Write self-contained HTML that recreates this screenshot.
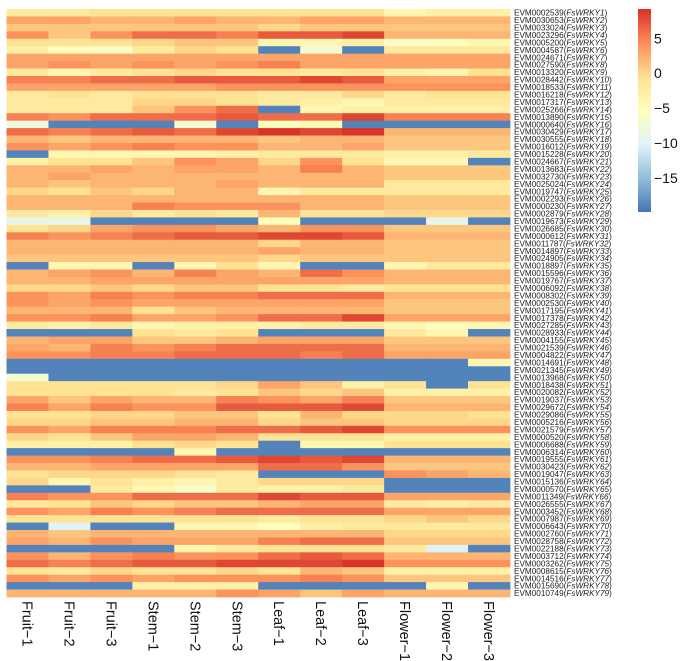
<!DOCTYPE html>
<html><head><meta charset="utf-8"><style>
html,body{margin:0;padding:0;background:#fff;}
svg{display:block;font-family:"Liberation Sans",sans-serif;}
</style></head><body>
<svg id="chart" width="685" height="661" viewBox="0 0 685 661" xmlns="http://www.w3.org/2000/svg">
<defs><linearGradient id="cbg" x1="0" y1="1" x2="0" y2="0">
<stop offset="0" stop-color="#4575B4"/><stop offset="0.1667" stop-color="#91BFDB"/><stop offset="0.3333" stop-color="#E0F3F8"/><stop offset="0.5" stop-color="#FFFFBF"/><stop offset="0.6667" stop-color="#FEE090"/><stop offset="0.8333" stop-color="#FC8D59"/><stop offset="1" stop-color="#D73027"/></linearGradient></defs>
<g id="cells"></g>
<g id="rowlabels"></g>
<g id="collabels"></g>
<g id="legend"></g>
</svg>
<script>
const columns=["Fruit\u22121","Fruit\u22122","Fruit\u22123","Stem\u22121","Stem\u22122","Stem\u22123","Leaf\u22121","Leaf\u22122","Leaf\u22123","Flower\u22121","Flower\u22122","Flower\u22123"];
const genes=["EVM0002539","EVM0030653","EVM0033024","EVM0023296","EVM0005200","EVM0004587","EVM0024671","EVM0027590","EVM0013320","EVM0028442","EVM0018533","EVM0016218","EVM0017317","EVM0025266","EVM0013890","EVM0000640","EVM0030429","EVM0030555","EVM0016012","EVM0015228","EVM0024667","EVM0013683","EVM0032730","EVM0025024","EVM0019747","EVM0002293","EVM0000230","EVM0002879","EVM0019673","EVM0026685","EVM0000612","EVM0011787","EVM0014897","EVM0024905","EVM0018897","EVM0015596","EVM0019767","EVM0006092","EVM0008302","EVM0002530","EVM0017195","EVM0017378","EVM0027285","EVM0028933","EVM0004155","EVM0021539","EVM0004822","EVM0014691","EVM0021345","EVM0013968","EVM0018438","EVM0020082","EVM0019037","EVM0029672","EVM0029086","EVM0005216","EVM0021579","EVM0000520","EVM0006688","EVM0006314","EVM0019555","EVM0030423","EVM0019047","EVM0015136","EVM0000570","EVM0011349","EVM0026555","EVM0003452","EVM0007987","EVM0006643","EVM0002760","EVM0028758","EVM0022188","EVM0003712","EVM0003262","EVM0008615","EVM0014516","EVM0015690","EVM0010749"];
const values=[
[-2,-2,-1,-1,-1,-1,-1,-1,-1,-4,-3,-3],
[3,3,2,2,3,2,2,3,3,2,2,2],
[1,1,1,1,1,1,0,1,1,1,1,1],
[4,1,4,6,6,5,7,7,8,2,2,2],
[-1,-1,-1,0,1,1,-4,-4,-3,-6,-5,-4],
[-3,-5,-6,-2,0,-1,-19,-7,-19,-2,-2,-2],
[3,3,3,3,3,3,3,3,3,3,3,3],
[3,4,3,4,3,4,5,3,3,3,3,3],
[-2,-4,-2,-1,0,-1,-1,-2,-1,-3,-4,-1],
[5,5,6,6,7,7,7,8,7,3,3,3],
[3,3,3,3,3,4,4,4,4,4,4,4],
[-2,-1,-2,-1,-1,-1,-2,-2,0,-2,-1,-1],
[-2,-2,-2,0,0,-1,-2,-3,-4,-2,-2,-2],
[-2,-2,-2,1,4,6,-19,-4,-3,-3,-3,-3],
[5,4,6,6,6,7,6,6,8,5,5,5],
[-8,-19,-19,-19,-7,-19,-5,-4,-19,-19,-19,-19],
[6,5,6,7,6,8,9,8,9,2,2,2],
[2,1,2,2,2,2,1,2,2,1,1,1],
[4,3,4,5,4,4,2,2,3,1,1,1],
[-19,-4,-4,-4,-4,-3,-2,-2,-2,-3,-3,-2],
[-3,-1,-1,1,4,3,0,4,-1,-4,-4,-19],
[2,2,3,2,3,3,2,5,2,1,1,1],
[2,3,2,2,2,2,2,2,2,1,1,1],
[2,1,2,2,2,3,2,2,2,-2,-2,-2],
[0,-1,1,0,2,2,-4,-2,-2,-2,-2,-2],
[2,2,2,2,2,2,2,2,2,1,1,1],
[2,2,2,5,4,4,4,2,2,1,1,1],
[-2,-3,0,-2,-1,-2,2,-1,-1,0,0,0],
[-9,-9,-19,-19,-19,-19,-5,-19,-19,-19,-9,-19],
[-1,0,3,4,4,3,2,4,4,1,1,1],
[5,4,5,6,7,7,8,8,7,2,2,2],
[2,2,2,2,2,2,0,2,2,1,1,1],
[2,2,2,2,2,2,3,2,2,1,1,1],
[1,1,1,1,1,1,0,1,1,1,1,1],
[-19,-4,-4,-19,-4,-1,-4,-19,-19,-4,-2,-2],
[2,3,4,2,5,3,2,6,4,2,2,2],
[2,2,3,3,3,3,3,3,3,2,2,2],
[0,0,1,0,1,1,-1,-1,-2,-1,-1,-1],
[4,3,5,4,5,5,6,6,6,2,2,2],
[4,3,4,3,3,3,3,3,3,1,1,1],
[2,2,2,-1,1,2,2,2,2,1,1,1],
[4,4,5,3,3,4,6,6,8,3,3,3],
[-2,-3,-2,-4,-3,-3,-3,-2,-2,-4,-5,-4],
[-19,-19,-19,-1,-2,-1,-19,-19,-19,-2,-4,-19],
[2,3,3,1,1,2,3,3,3,1,1,1],
[3,2,5,4,5,6,6,6,6,2,2,2],
[4,4,5,5,6,6,6,5,6,3,3,3],
[-19,-19,-19,-19,-19,-19,-19,-19,-19,-19,-19,-4],
[-19,-19,-19,-19,-19,-19,-19,-19,-19,-19,-19,-19],
[-7,-19,-19,-19,-19,-19,-19,-19,-19,-19,-19,-19],
[-1,-1,-1,-1,-1,0,3,1,-3,-1,-19,-1],
[-1,-1,-1,-1,-2,-1,1,0,1,-3,-3,-3],
[3,1,3,2,2,5,4,3,5,1,1,1],
[5,3,5,4,4,7,7,7,8,2,2,2],
[-1,-1,0,0,1,1,-1,2,0,0,0,-1],
[0,0,1,1,2,2,0,1,1,0,0,0],
[4,3,5,5,5,6,6,7,8,4,4,4],
[0,-1,1,3,3,2,-1,-1,-1,-3,-3,-3],
[-3,-3,-3,-1,0,-1,-19,-4,-4,-1,-1,-1],
[-19,-19,-19,-19,-4,-19,-19,-19,-19,-19,-19,-19],
[4,4,5,6,6,7,8,7,8,2,2,2],
[2,2,3,3,3,3,6,6,4,1,1,1],
[-1,0,0,0,-1,-2,-19,-19,-19,4,3,2],
[0,-4,-1,-3,-4,-2,0,0,0,-19,-19,-19],
[-19,-19,-2,-4,-6,-2,-3,-3,-2,-19,-19,-19],
[5,4,4,6,6,6,8,7,7,3,3,3],
[-2,-1,1,0,1,1,2,3,3,-2,-3,-2],
[4,3,5,4,5,6,6,6,6,3,3,3],
[-1,-1,-1,-1,-1,-1,-2,-1,-1,0,1,0],
[-19,-10,-19,-19,-4,-4,-5,-3,-2,-2,-2,-2],
[2,1,2,2,2,2,2,2,2,0,0,0],
[3,2,4,3,3,3,5,6,6,1,1,1],
[-19,-19,-19,-19,-4,-2,-1,-1,-1,-2,-10,-19],
[4,2,4,5,4,4,6,7,6,2,2,2],
[6,5,6,7,7,8,8,8,9,4,4,4],
[-1,-2,0,-1,-1,0,-1,2,1,-3,-3,-3],
[4,3,4,3,4,4,4,5,4,1,1,1],
[-19,-19,-19,-3,-3,-3,-19,-19,-19,-19,-4,-19],
[2,2,2,2,2,4,3,1,3,2,2,2]
];
const legendTicks=[5,0,-5,-10,-15];
const NS="http://www.w3.org/2000/svg";
const vmin=-19.9,vmax=9.2;
const x0=6.5,x1=510,y0=9,y1=597;
const cw=(x1-x0)/columns.length, rh=(y1-y0)/genes.length;
const stops=["#4575B4","#91BFDB","#E0F3F8","#FFFFBF","#FEE090","#FC8D59","#D73027"].map(h=>[parseInt(h.slice(1,3),16),parseInt(h.slice(3,5),16),parseInt(h.slice(5,7),16)]);
function color(v){let t=(v-vmin)/(vmax-vmin);t=Math.max(0,Math.min(1,t))*6;let i=Math.min(5,Math.floor(t)),f=t-i;const a=stops[i],b=stops[i+1];return "rgb("+a.map((c,k)=>Math.round(c+(b[k]-c)*f)).join(",")+")";}
function mk(tag,attrs,parent){const e=document.createElementNS(NS,tag);for(const k in attrs)e.setAttribute(k,attrs[k]);parent.appendChild(e);return e;}
const cells=document.getElementById('cells');
values.forEach((row,r)=>row.forEach((v,c)=>{
 const e=mk('rect',{x:x0+c*cw,y:y0+r*rh,width:cw+0.4,height:rh+0.4,fill:color(v)},cells);
 
 
}));
const rl=document.getElementById('rowlabels');
genes.forEach((g,r)=>{
 const t=mk('text',{x:514,y:y0+(r+0.5)*rh+2.9,'font-size':'8.2','fill':'#222'},rl);
 
 
 t.appendChild(document.createTextNode(g+'('));
 const s=mk('tspan',{'font-style':'italic'},t);s.textContent='FsWRKY'+(r+1);
 t.appendChild(document.createTextNode(')'));
});
const cl=document.getElementById('collabels');
columns.forEach((c,i)=>{
 const cx=x0+(i+0.5)*cw;
 const t=mk('text',{x:0,y:0,transform:'translate('+(cx-5)+',601) rotate(90)','font-size':'14.5','fill':'#111'},cl);
 
 
 t.textContent=c;
});
const lg=document.getElementById('legend');
const ly0=9,ly1=212;
const bar=mk('rect',{x:638,y:ly0,width:13,height:ly1-ly0,fill:'url(#cbg)'},lg);


legendTicks.forEach(v=>{
 const y=ly1-(v-vmin)/(vmax-vmin)*(ly1-ly0);
 const t=mk('text',{x:654,y:y+5,'font-size':'14','fill':'#111'},lg);
 
 
 t.textContent=v<0?'\u2212'+Math.abs(v):String(v);
});
</script>
</body></html>
